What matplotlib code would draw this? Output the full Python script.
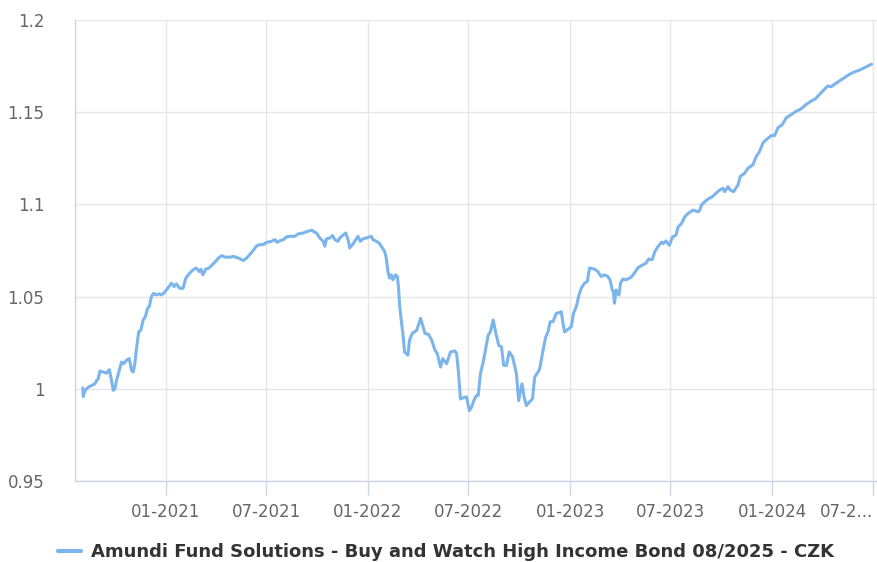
import matplotlib
matplotlib.use("Agg")
import matplotlib.pyplot as plt
import matplotlib.transforms as mtransforms
import pandas as pd

series_name = "Amundi Fund Solutions - Buy and Watch High Income Bond 08/2025 - CZK"

dates = [
    "2020-08-04", "2020-08-05", "2020-08-08", "2020-08-14", "2020-08-20", "2020-08-26", "2020-08-29",
    "2020-09-01", "2020-09-04", "2020-09-10", "2020-09-16", "2020-09-21", "2020-09-25", "2020-09-28",
    "2020-10-01", "2020-10-04", "2020-10-09", "2020-10-13", "2020-10-17", "2020-10-22", "2020-10-27",
    "2020-10-31", "2020-11-03", "2020-11-06", "2020-11-09", "2020-11-13", "2020-11-17", "2020-11-21",
    "2020-11-25", "2020-11-29", "2020-12-02", "2020-12-06", "2020-12-10", "2020-12-15", "2020-12-20",
    "2020-12-24", "2020-12-28", "2021-01-02", "2021-01-07", "2021-01-11", "2021-01-16", "2021-01-20",
    "2021-01-26", "2021-02-01", "2021-02-06", "2021-02-13", "2021-02-19", "2021-02-25", "2021-03-02",
    "2021-03-05", "2021-03-09", "2021-03-14", "2021-03-20", "2021-03-26", "2021-04-01", "2021-04-06",
    "2021-04-12", "2021-04-18", "2021-04-27", "2021-05-03", "2021-05-12", "2021-05-21", "2021-05-27",
    "2021-06-03", "2021-06-08", "2021-06-14", "2021-06-20", "2021-06-26", "2021-07-02", "2021-07-11",
    "2021-07-17", "2021-07-21", "2021-07-26", "2021-08-01", "2021-08-07", "2021-08-13", "2021-08-22",
    "2021-08-28", "2021-09-06", "2021-09-15", "2021-09-21", "2021-09-27", "2021-09-30", "2021-10-06",
    "2021-10-12", "2021-10-15", "2021-10-18", "2021-10-24", "2021-10-29", "2021-11-02", "2021-11-08",
    "2021-11-11", "2021-11-16", "2021-11-22", "2021-11-26", "2021-11-29", "2021-12-04", "2021-12-08",
    "2021-12-14", "2021-12-18", "2021-12-23", "2021-12-29", "2022-01-07", "2022-01-10", "2022-01-16",
    "2022-01-21", "2022-01-25", "2022-01-31", "2022-02-03", "2022-02-06", "2022-02-09", "2022-02-12",
    "2022-02-15", "2022-02-20", "2022-02-23", "2022-02-25", "2022-02-27", "2022-03-02", "2022-03-05",
    "2022-03-08", "2022-03-14", "2022-03-17", "2022-03-22", "2022-03-26", "2022-03-30", "2022-04-04",
    "2022-04-06", "2022-04-14", "2022-04-20", "2022-04-26", "2022-05-02", "2022-05-06", "2022-05-12",
    "2022-05-16", "2022-05-23", "2022-05-30", "2022-06-07", "2022-06-10", "2022-06-13", "2022-06-17",
    "2022-06-25", "2022-06-28", "2022-07-03", "2022-07-07", "2022-07-11", "2022-07-16", "2022-07-19",
    "2022-07-23", "2022-07-28", "2022-08-01", "2022-08-06", "2022-08-10", "2022-08-15", "2022-08-20",
    "2022-08-25", "2022-08-30", "2022-09-03", "2022-09-08", "2022-09-13", "2022-09-19", "2022-09-26",
    "2022-09-30", "2022-10-06", "2022-10-10", "2022-10-14", "2022-10-19", "2022-10-25", "2022-10-29",
    "2022-11-04", "2022-11-07", "2022-11-13", "2022-11-18", "2022-11-22", "2022-11-26", "2022-12-01",
    "2022-12-07", "2022-12-12", "2022-12-16", "2022-12-19", "2022-12-22", "2022-12-30", "2023-01-03",
    "2023-01-07", "2023-01-12", "2023-01-17", "2023-01-21", "2023-01-27", "2023-02-01", "2023-02-05",
    "2023-02-14", "2023-02-20", "2023-02-26", "2023-03-04", "2023-03-10", "2023-03-14", "2023-03-18",
    "2023-03-20", "2023-03-22", "2023-03-25", "2023-03-30", "2023-04-02", "2023-04-06", "2023-04-12",
    "2023-04-21", "2023-04-27", "2023-05-03", "2023-05-09", "2023-05-18", "2023-05-23", "2023-05-29",
    "2023-06-03", "2023-06-09", "2023-06-15", "2023-06-18", "2023-06-23", "2023-06-29", "2023-07-05",
    "2023-07-11", "2023-07-15", "2023-07-21", "2023-07-27", "2023-08-02", "2023-08-11", "2023-08-20",
    "2023-08-23", "2023-08-26", "2023-09-01", "2023-09-09", "2023-09-15", "2023-09-21", "2023-09-28",
    "2023-10-04", "2023-10-07", "2023-10-13", "2023-10-17", "2023-10-23", "2023-10-31", "2023-11-04",
    "2023-11-12", "2023-11-18", "2023-11-27", "2023-12-03", "2023-12-09", "2023-12-15", "2023-12-21",
    "2023-12-30", "2024-01-05", "2024-01-11", "2024-01-19", "2024-01-26", "2024-02-04", "2024-02-13",
    "2024-02-22", "2024-03-02", "2024-03-11", "2024-03-19", "2024-03-26", "2024-04-04", "2024-04-10",
    "2024-04-16", "2024-04-22", "2024-05-01", "2024-05-10", "2024-05-19", "2024-05-28", "2024-06-07",
    "2024-06-16", "2024-06-28",
]

values = [
    1.0005, 0.9958, 0.9991, 1.0009, 1.0018, 1.0027, 1.0045,
    1.0055, 1.0096, 1.0091, 1.0085, 1.0104, 1.0045, 0.9991,
    1.0000, 1.0045, 1.0100, 1.0145, 1.0136, 1.0155, 1.0164,
    1.0100, 1.0091, 1.0136, 1.0218, 1.0309, 1.0318, 1.0373,
    1.0391, 1.0436, 1.0445, 1.0500, 1.0518, 1.0509, 1.0515,
    1.0509, 1.0518, 1.0536, 1.0555, 1.0573, 1.0555, 1.0569,
    1.0545, 1.0545, 1.0600, 1.0627, 1.0645, 1.0655, 1.0636,
    1.0649, 1.0618, 1.0649, 1.0655, 1.0673, 1.0691, 1.0709,
    1.0722, 1.0714, 1.0714, 1.0718, 1.0709, 1.0696, 1.0709,
    1.0733, 1.0751, 1.0776, 1.0782, 1.0782, 1.0794, 1.0800,
    1.0809, 1.0794, 1.0803, 1.0809, 1.0824, 1.0827, 1.0827,
    1.0840, 1.0845, 1.0855, 1.0860, 1.0849, 1.0845, 1.0818,
    1.0800, 1.0773, 1.0813, 1.0818, 1.0831, 1.0809, 1.0800,
    1.0818, 1.0831, 1.0845, 1.0809, 1.0764, 1.0782, 1.0800,
    1.0827, 1.0800, 1.0813, 1.0818, 1.0827, 1.0809, 1.0800,
    1.0791, 1.0773, 1.0745, 1.0709, 1.0636, 1.0600, 1.0618,
    1.0591, 1.0618, 1.0609, 1.0555, 1.0455, 1.0373, 1.0300,
    1.0200, 1.0182, 1.0264, 1.0300, 1.0309, 1.0318, 1.0364,
    1.0382, 1.0300, 1.0296, 1.0264, 1.0209, 1.0191, 1.0118,
    1.0164, 1.0136, 1.0200, 1.0205, 1.0191, 1.0100, 0.9945,
    0.9955, 0.9955, 0.9882, 0.9900, 0.9936, 0.9964, 0.9964,
    1.0082, 1.0145, 1.0209, 1.0291, 1.0309, 1.0373, 1.0300,
    1.0236, 1.0227, 1.0127, 1.0127, 1.0200, 1.0173, 1.0082,
    0.9936, 1.0027, 0.9955, 0.9909, 0.9927, 0.9945, 1.0064,
    1.0091, 1.0109, 1.0209, 1.0282, 1.0309, 1.0364, 1.0364,
    1.0409, 1.0413, 1.0418, 1.0355, 1.0309, 1.0327, 1.0336,
    1.0409, 1.0445, 1.0509, 1.0545, 1.0573, 1.0582, 1.0655,
    1.0649, 1.0636, 1.0609, 1.0618, 1.0609, 1.0591, 1.0536,
    1.0527, 1.0464, 1.0536, 1.0509, 1.0573, 1.0595, 1.0591,
    1.0605, 1.0627, 1.0655, 1.0667, 1.0682, 1.0704, 1.0700,
    1.0745, 1.0773, 1.0795, 1.0787, 1.0802, 1.0778, 1.0824,
    1.0833, 1.0878, 1.0896, 1.0933, 1.0951, 1.0969, 1.0960,
    1.0969, 1.0996, 1.1015, 1.1033, 1.1042, 1.1060, 1.1078,
    1.1087, 1.1069, 1.1096, 1.1078, 1.1069, 1.1105, 1.1151,
    1.1169, 1.1196, 1.1215, 1.1260, 1.1287, 1.1333, 1.1351,
    1.1373, 1.1373, 1.1415, 1.1433, 1.1469, 1.1487, 1.1505,
    1.1518, 1.1542, 1.1560, 1.1573, 1.1596, 1.1624, 1.1642,
    1.1638, 1.1651, 1.1669, 1.1687, 1.1705, 1.1718, 1.1729,
    1.1742, 1.1760,
]

y_ticks = [0.95, 1.0, 1.05, 1.1, 1.15, 1.2]
y_tick_labels = ["0.95", "1", "1.05", "1.1", "1.15", "1.2"]
x_ticks = ["2021-01-01", "2021-07-01", "2022-01-01", "2022-07-01",
           "2023-01-01", "2023-07-01", "2024-01-01", "2024-07-01"]
x_tick_labels = ["01-2021", "07-2021", "01-2022", "07-2022",
                 "01-2023", "07-2023", "01-2024", "07-2..."]
x_range = ["2020-07-21", "2024-07-08"]

line_color = "#7cb5ec"
grid_color = "#e6e6e6"
axis_color = "#ccd6eb"
label_color = "#666666"

df = pd.DataFrame({"date": pd.to_datetime(dates), "value": values})

fig = plt.figure(figsize=(8.78, 5.62), dpi=100)
ax = fig.add_axes([75 / 878, 81 / 562, (877 - 75) / 878, (542 - 81) / 562])

ax.plot(df["date"], df["value"], color=line_color, linewidth=2.2,
        solid_joinstyle="round", solid_capstyle="round", label=series_name,
        zorder=3)

ax.set_ylim(0.95, 1.2)
ax.set_xlim(pd.to_datetime(x_range[0]), pd.to_datetime(x_range[1]))

ax.set_yticks(y_ticks)
ax.set_yticklabels(y_tick_labels)
xt = pd.to_datetime(x_ticks)
ax.set_xticks(xt)
ax.set_xticklabels(x_tick_labels)
last = ax.get_xticklabels()[-1]
last.set_horizontalalignment("right")
last.set_transform(last.get_transform() + mtransforms.ScaledTranslation(4 / 100, 0, fig.dpi_scale_trans))

ax.grid(True, color=grid_color, linewidth=1.0, zorder=0)
ax.set_axisbelow(True)

for side in ["top", "right"]:
    ax.spines[side].set_visible(False)
ax.spines["left"].set_color(axis_color)
ax.spines["bottom"].set_color(axis_color)
ax.spines["left"].set_linewidth(1.0)
ax.spines["bottom"].set_linewidth(1.0)

ax.tick_params(axis="y", length=0, pad=22, labelsize=12, labelcolor=label_color)
ax.tick_params(axis="x", length=10, width=1.0, color=axis_color, pad=6,
               labelsize=12, labelcolor=label_color)

leg = fig.legend(loc="center", bbox_to_anchor=(446 / 878, 10 / 562), frameon=False,
                 handlelength=1.25, handletextpad=0.55, borderpad=0.0,
                 prop={"weight": "bold", "size": 13})
for t in leg.get_texts():
    t.set_color("#333333")
for h in leg.get_lines():
    h.set_linewidth(3)

fig.savefig("out.png", dpi=100)
